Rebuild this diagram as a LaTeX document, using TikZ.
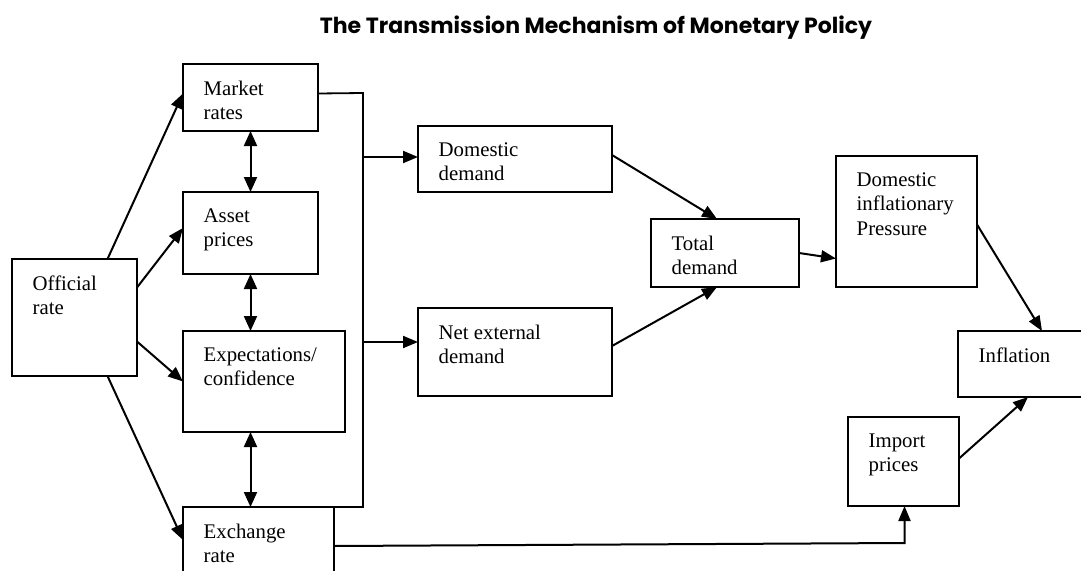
\documentclass[tikz,border=0pt]{standalone}
\usepackage{fontspec}
\setmainfont{Liberation Serif}
\newfontfamily\titlefont{Poppins}
\usetikzlibrary{arrows.meta,calc}
\tikzset{
  blk/.style={draw, line width=2pt, inner sep=0pt, outer sep=0pt, anchor=north west},
  lbl/.style={align=left, inner sep=0pt, anchor=north west, font=\fontsize{20.8}{24.5}\selectfont},
  arr/.style={line width=2pt, -{Triangle[length=15pt,width=12pt]}},
  dbl/.style={line width=2pt, {Triangle[length=15pt,width=13pt]}-{Triangle[length=15pt,width=13pt]}},
  bus/.style={line width=1.8pt}
}
\begin{document}
\begin{tikzpicture}[x=1pt,y=-1pt]
    \useasboundingbox (0,0) rectangle (1081,570);
    \node[font=\titlefont\bfseries\fontsize{22}{24}\selectfont, anchor=base] (title) at (596,33)
        {The Transmission Mechanism of Monetary Policy};
    % boxes
    \foreach \name/\x/\y/\w/\h in {off/12/259/125/117, mkt/183/64/135/67, ast/183/192/135/82,
        exp/183/331/162/101, exc/183/507/151/90, dom/418/126/194/66, net/418/308/194/88,
        tot/651/219/148/68, dip/836/156/141/131, inf/958/331/132/66, imp/848/417/111/89}
    \node[blk, minimum width=\w pt, minimum height=\h pt] (\name) at (\x,\y) {};
    \foreach \name/\txt in {off/{Official\\rate}, mkt/{Market\\rates}, ast/{Asset\\prices},
        exp/{Expectations/\\confidence}, exc/{Exchange\\rate}, dom/{Domestic\\demand},
        net/{Net external\\demand}, tot/{Total\\demand}, dip/{Domestic\\inflationary\\Pressure},
        inf/{Inflation}, imp/{Import\\prices}}
    \node[lbl] (\name-t) at ([shift={(20.5,16.5)}]\name.north west) {\txt};
    % official rate fans out
    \draw[arr] ([shift={(33,0)}]off.north) -- ([shift={(0,-4)}]mkt.west);
    \draw[arr] ([shift={(0,-30)}]off.east) -- ([shift={(0,-5)}]ast.west);
    \draw[arr] ([shift={(0,24)}]off.east) -- (exp.west);
    \draw[arr] ([shift={(33,0)}]off.south) -- ([shift={(0,33)}]exc.north west);
    % two-way links
    \draw[dbl] (mkt.south) -- (ast.north);
    \draw[dbl] (ast.south) -- (ast.south |- exp.north);
    \draw[dbl] (ast.south |- exp.south) -- (ast.south |- exc.north);
    % bus line
    \coordinate (bustop) at (363,93);
    \draw[bus] ([shift={(0,-4)}]mkt.east) -- (bustop) -- (bustop |- exc.north) -- (exc.north east);
    \draw[arr] ([shift={(0,-2)}]dom.west -| bustop) -- ([shift={(0,-2)}]dom.west);
    \draw[arr] ([shift={(0,-10)}]net.west -| bustop) -- ([shift={(0,-10)}]net.west);
    % demand to inflation
    \draw[arr] ([shift={(0,-4)}]dom.east) -- ([shift={(-8,0)}]tot.north);
    \draw[arr] ([shift={(0,-6)}]net.east) -- ([shift={(-8,0)}]tot.south);
    \draw[arr] (tot.east) -- ([shift={(0,37)}]dip.west);
    \draw[arr] ([shift={(0,3)}]dip.east) -- ([shift={(18,0)}]inf.north);
    \draw[arr] ([shift={(0,-3)}]imp.east) -- ([shift={(4,0)}]inf.south);
    \draw[arr] ([shift={(0,39)}]exc.north east) -- ([shift={(1,37)}]imp.south) -- ([shift={(1,0)}]imp.south);
\end{tikzpicture}
\end{document}
